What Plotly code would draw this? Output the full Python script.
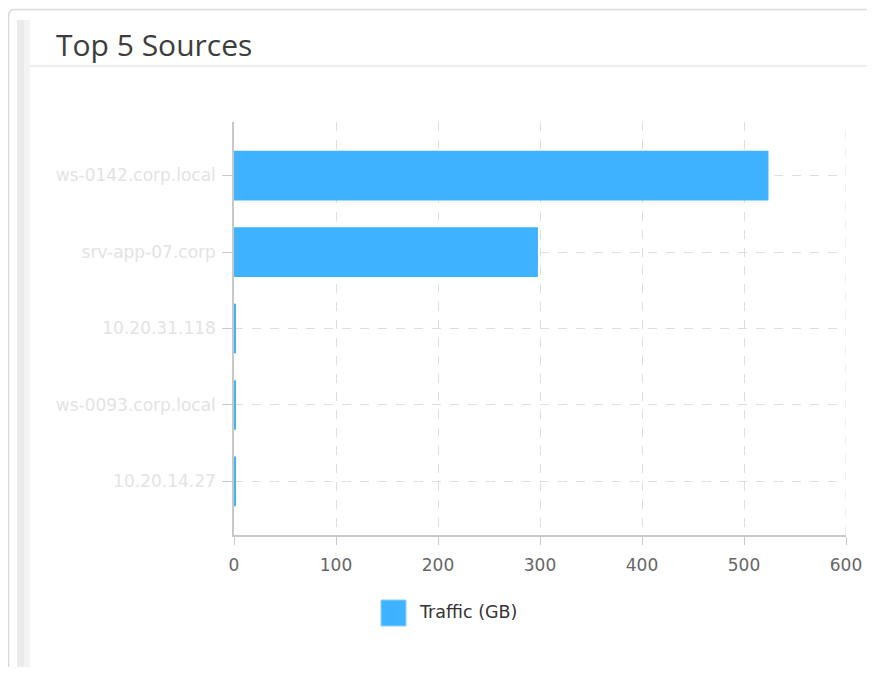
import plotly.graph_objects as go

# page body has an 8px margin: the figure is sized to fit inside the window
OX, OY = 8, 8
W, H = 875 - 2 * OX, 675 - 2 * OY

sources = ["ws-0142.corp.local", "srv-app-07.corp", "10.20.31.118", "ws-0093.corp.local", "10.20.14.27"]
traffic_gb = [524, 298, 2, 1.5, 1]
series_name = "Traffic (GB)"
x_ticks = [0, 100, 200, 300, 400, 500, 600]
title_text = "Top 5 Sources"

BLUE = "#3fb3ff"

def px(x):
    return (x - OX) / W

def py(y):
    return 1 - (y - OY) / H

fig = go.Figure()
fig.add_trace(go.Bar(
    y=sources, x=traffic_gb, orientation="h", name=series_name,
    marker=dict(color=BLUE, line=dict(width=0)), width=0.65, showlegend=False,
))

card_path = "M {a},{b} L {a},{c} Q {a},{d} {e},{d} L {f},{d}".format(
    a=px(8.6), b=py(680), c=py(16), d=py(9.5), e=px(15), f=px(900))

shapes = [
    # card border with rounded top-left corner
    dict(type="path", xref="paper", yref="paper", path=card_path,
         line=dict(color="#d9d9d9", width=1.5)),
    # left shadow strip (two shades for a soft gradient)
    dict(type="rect", xref="paper", yref="paper", x0=px(17), x1=px(24), y0=py(668), y1=py(20),
         line=dict(width=0), fillcolor="#ebebeb", layer="below"),
    dict(type="rect", xref="paper", yref="paper", x0=px(24), x1=px(30), y0=py(668), y1=py(20),
         line=dict(width=0), fillcolor="#f3f3f3", layer="below"),
    # header separator
    dict(type="line", xref="paper", yref="paper", x0=px(30), x1=px(900), y0=py(66), y1=py(66),
         line=dict(color="#e8e8e8", width=1.5)),
    # gridline at the right end of the value axis
    dict(type="line", xref="x", yref="y domain", x0=x_ticks[-1], x1=x_ticks[-1], y0=0, y1=1,
         line=dict(color="#dedede", width=1, dash="dash"), layer="below"),
    # legend swatch
    dict(type="rect", xref="paper", yref="paper", x0=px(381), x1=px(406), y0=py(626), y1=py(600),
         line=dict(color="#8fd0ff", width=1), fillcolor=BLUE),
]

annotations = [
    dict(text=title_text, xref="paper", yref="paper", x=px(54), y=py(44), xanchor="left", yanchor="middle",
         showarrow=False, font=dict(family="Open Sans", size=30, color="#3d3d3d")),
    dict(text=series_name, xref="paper", yref="paper", x=px(417), y=py(612), xanchor="left", yanchor="middle",
         showarrow=False, font=dict(family="DejaVu Sans", size=17.5, color="#333333")),
]

fig.update_layout(
    template="none",
    width=W, height=H, autosize=False,
    margin=dict(l=0, r=0, t=0, b=0, pad=0, autoexpand=False),
    paper_bgcolor="white", plot_bgcolor="white",
    showlegend=False,
    shapes=shapes, annotations=annotations,
    xaxis=dict(
        domain=[px(234), px(846)], range=[0, 600], tickvals=x_ticks, automargin=False,
        showgrid=True, gridcolor="#dedede", griddash="dash", gridwidth=1,
        showline=True, linecolor="#c8c8c8", linewidth=1.5,
        ticks="outside", ticklen=8, tickcolor="#c8c8c8", ticklabelstandoff=6,
        tickfont=dict(family="DejaVu Sans", size=17, color="#666666"),
        zeroline=False, fixedrange=True,
    ),
    yaxis=dict(
        domain=[py(535), py(122)], range=[4.7, -0.7], automargin=False,
        categoryorder="array", categoryarray=sources,
        showgrid=True, gridcolor="#dedede", griddash="dash", gridwidth=1,
        showline=True, linecolor="#c8c8c8", linewidth=1.5,
        ticks="outside", ticklen=10, tickcolor="#c8c8c8",
        tickfont=dict(family="DejaVu Sans", size=17, color="#e3e3e3"),
        ticklabelstandoff=3,
        zeroline=False, fixedrange=True,
    ),
)

fig.write_html("out.html")
